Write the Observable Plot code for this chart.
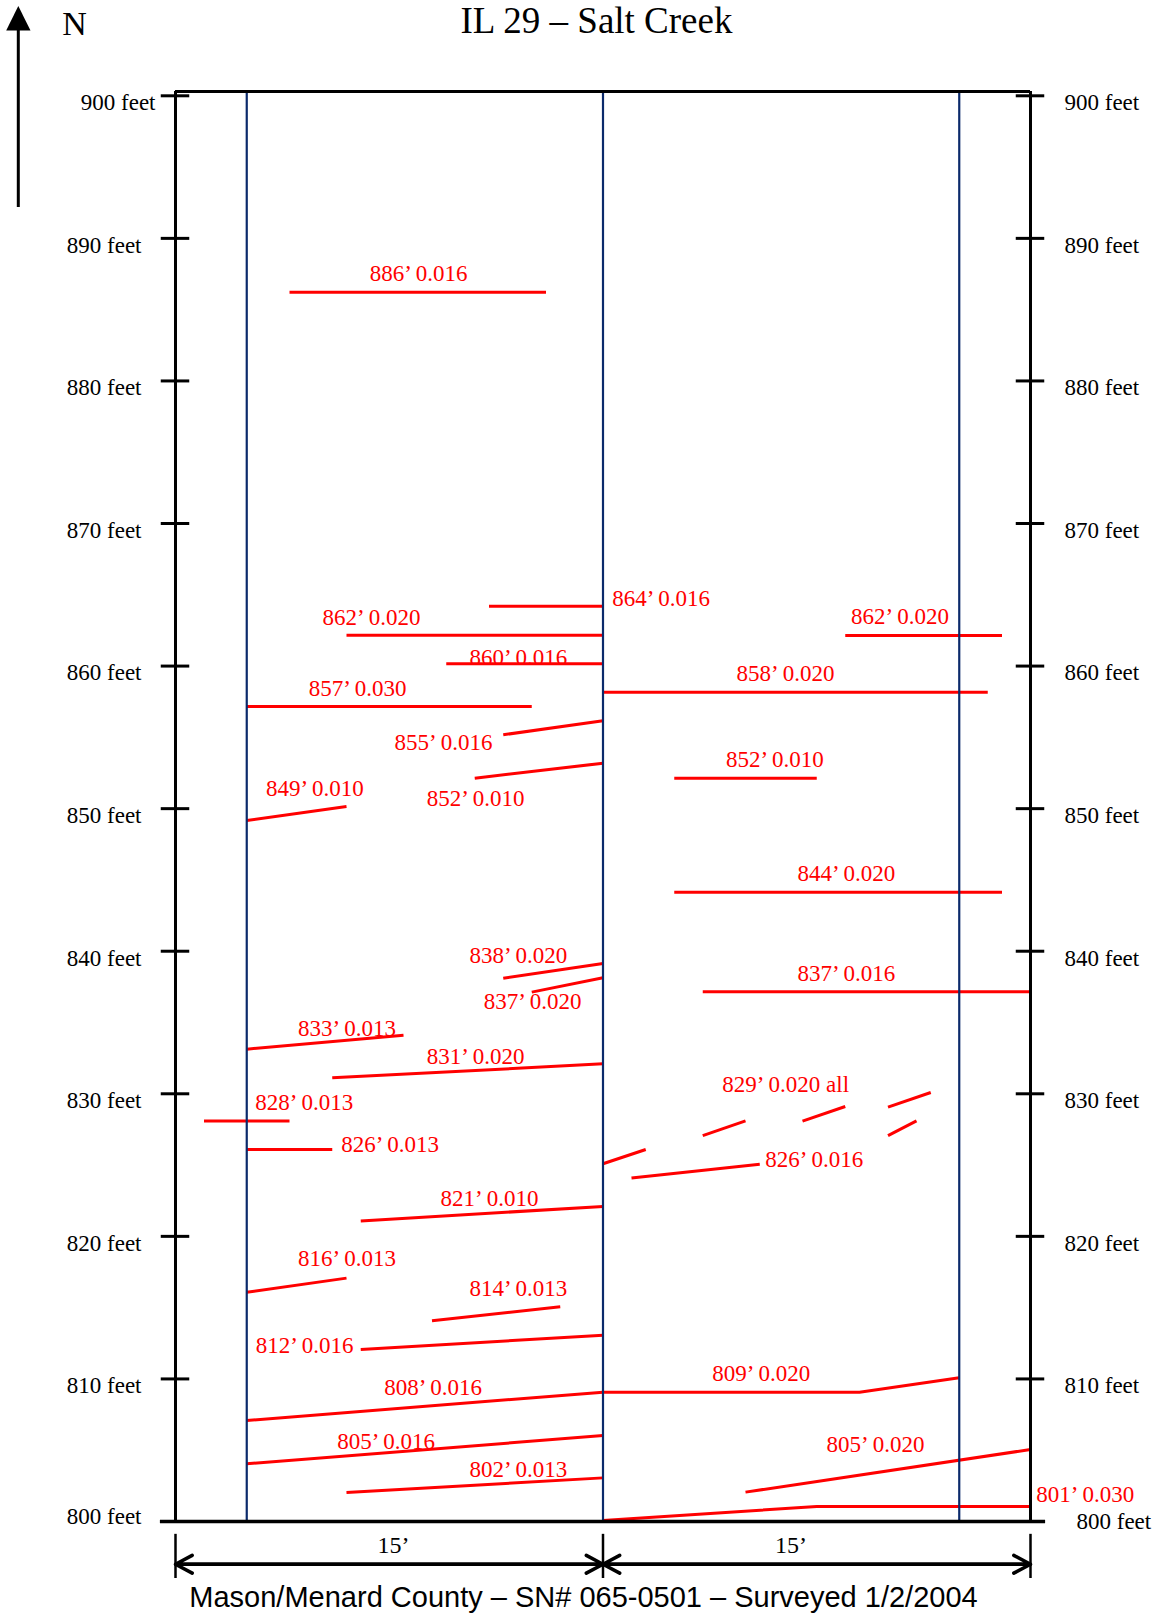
<!DOCTYPE html>
<html>
<head>
<meta charset="utf-8">
<script src="https://cdn.jsdelivr.net/npm/d3@7"></script>
<script src="https://cdn.jsdelivr.net/npm/@observablehq/plot@0.6"></script>
<style>
  body { margin: 0; background: #fff; }
  #chart svg { display: block; }
</style>
</head>
<body>
<div id="chart"></div>
<script>
// ---------- text ----------
const title = "IL 29 – Salt Creek";
const caption = "Mason/Menard County – SN# 065-0501 – Surveyed 1/2/2004";
const northLabel = "N";

// ---------- deck geometry (feet) ----------
const yTicks = [800, 810, 820, 830, 840, 850, 860, 870, 880, 890, 900];
const deckEdges = [0, 30];
const laneLines = [2.5, 15, 27.5];
const deckTop = 900.3;
const deckBottom = 800;
const spans = [[0, 15], [15, 30]];
const spanLabels = ["15’", "15’"];
const spanLabelX = [7.65, 21.6];

// ---------- cracks: station (ft along bridge) vs offset (ft across deck) ----------
const crackIds = [
  "886", "864", "862L", "860", "857", "855", "852L", "849",
  "862R", "858", "852R", "844",
  "838", "837L", "837R", "833", "831", "828", "826L",
  "829a", "829b", "829c", "829d", "829e", "826R",
  "821", "816", "814", "812", "808", "809", "805L", "802", "805R", "801"
];
const crackPoints = [
  [[4, 886.22], [13, 886.22]],
  [[11, 864.2], [15, 864.2]],
  [[6, 862.17], [15, 862.17]],
  [[9.5, 860.16], [15, 860.16]],
  [[2.5, 857.16], [12.5, 857.16]],
  [[11.5, 855.18], [15, 856.16]],
  [[10.5, 852.14], [15, 853.19]],
  [[2.5, 849.17], [6, 850.15]],
  [[23.5, 862.15], [29, 862.15]],
  [[15, 858.17], [28.5, 858.17]],
  [[17.5, 852.14], [22.5, 852.14]],
  [[17.5, 844.14], [29, 844.14]],
  [[11.5, 838.11], [15, 839.14]],
  [[12.5, 837.13], [15, 838.14]],
  [[18.5, 837.15], [30, 837.15]],
  [[2.5, 833.13], [8, 834.11]],
  [[5.5, 831.12], [15, 832.1]],
  [[1, 828.1], [4, 828.1]],
  [[2.5, 826.09], [5.5, 826.09]],
  [[15, 825.09], [16.5, 826.09]],
  [[18.5, 827.07], [20, 828.1]],
  [[22, 828.08], [23.5, 829.11]],
  [[25, 829.06], [26.5, 830.09]],
  [[25, 827.07], [26, 828.1]],
  [[16, 824.1], [20.5, 825.06]],
  [[6.5, 821.08], [15, 822.1]],
  [[2.5, 816.08], [6, 817.07]],
  [[9, 814.08], [13.5, 815.06]],
  [[6.5, 812.06], [15, 813.07]],
  [[2.5, 807.08], [15, 809.07]],
  [[15, 809.07], [24, 809.07], [27.5, 810.08]],
  [[2.5, 804.05], [15, 806.03]],
  [[6, 802.03], [15, 803.06]],
  [[20, 802.06], [30, 805.05]],
  [[15, 800.07], [22.5, 801.05], [30, 801.05]]
];

// ---------- crack labels ----------
const labelText = [
  "886’ 0.016", "864’ 0.016", "862’ 0.020", "860’ 0.016", "857’ 0.030",
  "855’ 0.016", "852’ 0.010", "849’ 0.010", "862’ 0.020", "858’ 0.020",
  "852’ 0.010", "844’ 0.020", "838’ 0.020", "837’ 0.020", "837’ 0.016",
  "833’ 0.013", "831’ 0.020", "828’ 0.013", "826’ 0.013", "829’ 0.020 all",
  "826’ 0.016", "821’ 0.010", "816’ 0.013", "814’ 0.013", "812’ 0.016",
  "808’ 0.016", "809’ 0.020", "805’ 0.016", "802’ 0.013", "805’ 0.020",
  "801’ 0.030"
];
const labelX = [
  8.53, 17.04, 6.88, 12.03, 6.39,
  9.4, 10.53, 4.89, 25.42, 21.4,
  21.03, 23.54, 12.03, 12.53, 23.54,
  6.02, 10.53, 4.52, 7.53, 21.41,
  22.41, 11.02, 6.02, 12.03, 4.53,
  9.04, 20.55, 7.39, 12.03, 24.56,
  31.92
];
const labelY = [
  887.51, 864.72, 863.43, 860.62, 858.45,
  854.66, 850.69, 851.43, 863.48, 859.46,
  853.45, 845.43, 839.7, 836.47, 838.42,
  834.6, 832.64, 829.41, 826.44, 830.63,
  825.39, 822.68, 818.43, 816.36, 812.34,
  809.42, 810.4, 805.63, 803.63, 805.4,
  801.85
];

// ---------- build tables ----------
const crackRows = crackIds.flatMap((id, i) => crackPoints[i].map(([x, y]) => ({id, x, y})));
const labelRows = labelText.map((t, i) => ({t, x: labelX[i], y: labelY[i]}));
const arrowRows = spans.flatMap(([a, b]) => [{x1: b, x2: a}, {x1: a, x2: b}]);
const spanLabelRows = spanLabels.map((t, i) => ({t, x: spanLabelX[i]}));

const RED = "#ff0000", NAVY = "#0b2a6b", BLACK = "#000";
const SERIF = "'Liberation Serif', 'Times New Roman', serif";
const SANS = "'Liberation Sans', Arial, sans-serif";
const dimY = 797.0;
const isMid = d => d !== 800 && d !== 900;
const tickText = d => `${d} feet`;

const plot = Plot.plot({
  width: 1160,
  height: 1616,
  marginLeft: 175,
  marginRight: 130,
  marginTop: 95,
  marginBottom: 95,
  x: {domain: [0, 30], range: [175, 1030], axis: null},
  y: {domain: [800, 900], range: [1521, 95.3], axis: null},
  style: {fontFamily: SERIF, background: "#fff", overflow: "visible"},
  marks: [
    // cracks
    Plot.line(crackRows, {x: "x", y: "y", z: "id", stroke: RED, strokeWidth: 3, strokeLinecap: "butt", strokeLinejoin: "round"}),
    // lane lines
    Plot.ruleX(laneLines, {y1: deckBottom, y2: deckTop, stroke: NAVY, strokeWidth: 2.2}),
    // deck border
    Plot.ruleX(deckEdges, {y1: deckBottom, y2: deckTop, stroke: BLACK, strokeWidth: 3}),
    Plot.ruleY([deckTop], {x1: deckEdges[0], x2: deckEdges[1], stroke: BLACK, strokeWidth: 3}),
    Plot.ruleY([deckBottom], {x1: deckEdges[0] - 0.53, x2: deckEdges[1] + 0.53, stroke: BLACK, strokeWidth: 3.5}),
    // ticks both sides
    Plot.ruleY(yTicks, {x1: deckEdges[0] - 0.5, x2: deckEdges[0] + 0.5, stroke: BLACK, strokeWidth: 3}),
    Plot.ruleY(yTicks, {x1: deckEdges[1] - 0.5, x2: deckEdges[1] + 0.5, stroke: BLACK, strokeWidth: 3}),
    // tick labels, left
    Plot.text(yTicks, {filter: isMid, x: deckEdges[0], y: d => d, text: tickText,
      textAnchor: "end", fontSize: 23, fill: BLACK, dx: -34, dy: 7}),
    Plot.text(yTicks, {filter: d => d === 900, x: deckEdges[0], y: d => d, text: tickText,
      textAnchor: "end", fontSize: 23, fill: BLACK, dx: -20, dy: 7}),
    Plot.text(yTicks, {filter: d => d === 800, x: deckEdges[0], y: d => d, text: tickText,
      textAnchor: "end", fontSize: 23, fill: BLACK, dx: -34, dy: -5}),
    // tick labels, right
    Plot.text(yTicks, {filter: d => d !== 800, x: deckEdges[1], y: d => d, text: tickText,
      textAnchor: "start", fontSize: 23, fill: BLACK, dx: 34, dy: 7}),
    Plot.text(yTicks, {filter: d => d === 800, x: deckEdges[1], y: d => d, text: tickText,
      textAnchor: "start", fontSize: 23, fill: BLACK, dx: 46, dy: 0}),
    // crack labels
    Plot.text(labelRows, {x: "x", y: "y", text: "t", fill: RED, fontSize: 23}),
    // dimension lines
    Plot.ruleX(deckEdges.concat([15]), {y1: 796.0, y2: 799.1, stroke: BLACK, strokeWidth: 2.5}),
    Plot.arrow(arrowRows, {x1: "x1", x2: "x2", y1: dimY, y2: dimY, stroke: BLACK, strokeWidth: 3.5, headLength: 8.1, headAngle: 56}),
    Plot.text(spanLabelRows, {x: "x", y: 798.3, text: "t", fontSize: 24, fill: BLACK}),
    // title, north label, caption
    Plot.text([title], {frameAnchor: "top", lineAnchor: "middle", text: d => d, fontSize: 37, fill: BLACK, dx: -6.5, dy: -74.5}),
    Plot.text([northLabel], {frameAnchor: "top-left", lineAnchor: "middle", textAnchor: "middle", text: d => d, fontSize: 34, fill: BLACK, dx: -101, dy: -71}),
    Plot.text([caption], {frameAnchor: "bottom", lineAnchor: "middle", text: d => d, fontSize: 29, fill: BLACK, fontFamily: SANS, dx: -19.5, dy: 76.4})
  ]
});

// north arrow (decoration)
const svg = d3.select(plot);
const north = svg.append("g");
north.append("line").attr("x1", 18.3).attr("x2", 18.3).attr("y1", 207).attr("y2", 26)
  .attr("stroke", BLACK).attr("stroke-width", 3);
north.append("path").attr("d", "M18.3,6 L6.2,30.5 L30.5,30.5 Z").attr("fill", BLACK);

document.getElementById("chart").appendChild(plot);
</script>
</body>
</html>
